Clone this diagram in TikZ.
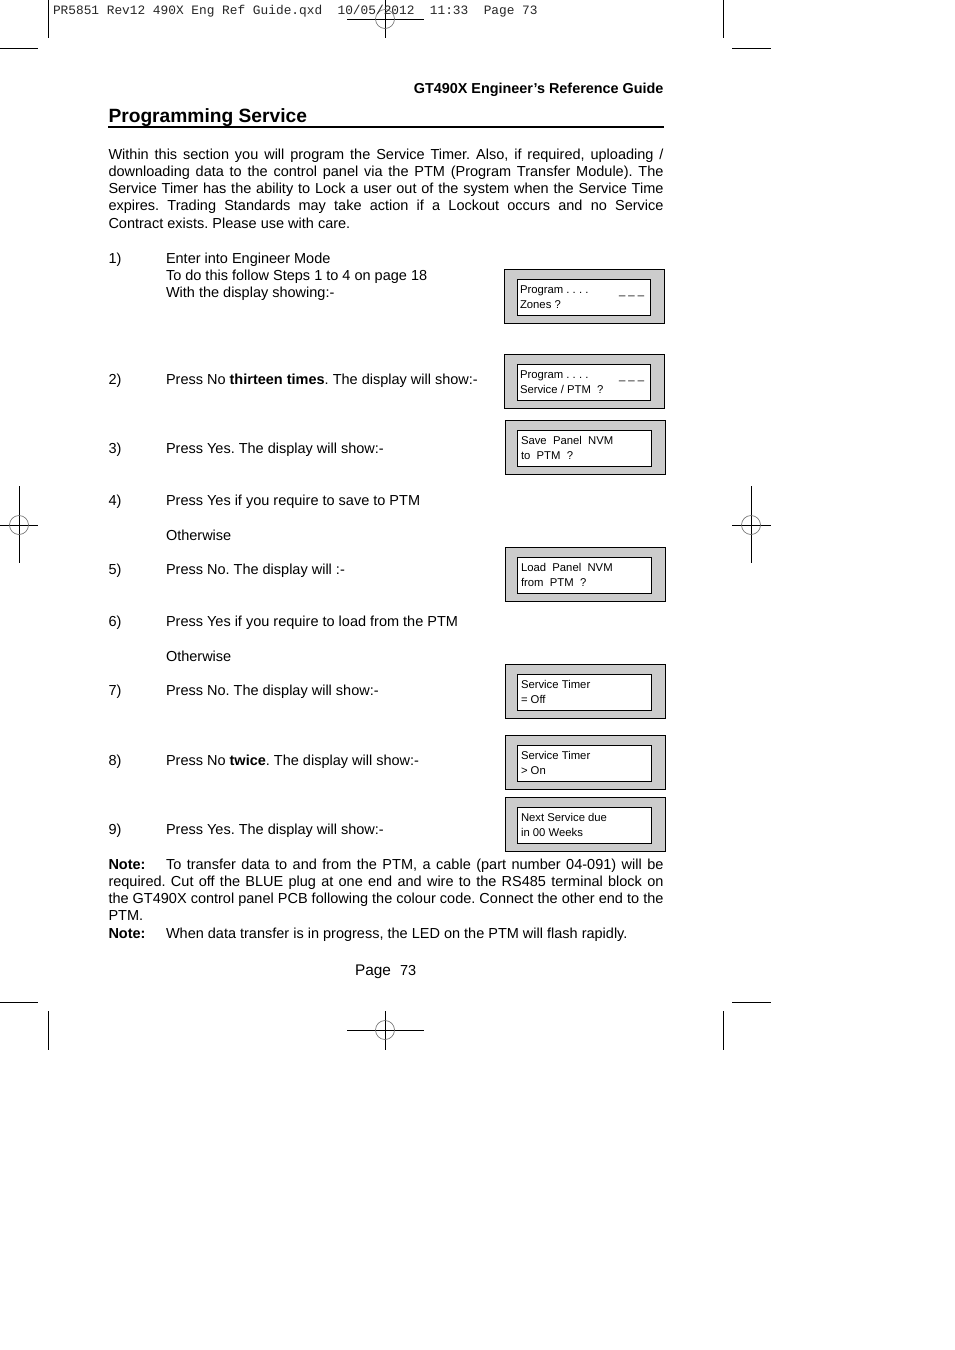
\documentclass[tikz,border=0pt]{standalone}
\usepackage{fontspec}
\setmainfont{Liberation Sans}
\newfontfamily\crop{Liberation Mono}
\newcommand{\jl}[1]{\makebox[555pt][s]{#1}}
\frenchspacing
\begin{document}
\begin{tikzpicture}[x=1pt,y=-1pt,
  every node/.style={inner sep=0pt,outer sep=0pt},
  mark line/.style={line width=0.9pt,black},
  mark ring/.style={line width=0.6pt,black!60},
  slug/.style={anchor=base west,font=\crop\fontsize{12.82}{14}\selectfont,text=black!85},
  head/.style={anchor=base east,font=\bfseries\fontsize{14.4}{17}\selectfont},
  title text/.style={anchor=base west,font=\bfseries\fontsize{19.2}{24}\selectfont},
  body/.style={anchor=base west,font=\fontsize{14.5}{17}\selectfont},
  para/.style={anchor=north west,align=left,font=\fontsize{14.5}{17.3}\selectfont},
  panel/.style={anchor=north west,draw=black,line width=0.9pt,fill=black!20,minimum width=160pt,minimum height=54pt},
  lcd/.style={anchor=north west,draw=black,line width=0.9pt,fill=white,minimum width=134pt,minimum height=36pt},
  lcdtext/.style={anchor=base west,font=\fontsize{11.3}{13}\selectfont},
]
\useasboundingbox (0,0) rectangle (954,1350);
\fill[white] (0,0) rectangle (954,1350);
% crop marks
\draw[mark line] (48,0)--(48,38) (0,48)--(38,48) (723,0)--(723,38) (732,48)--(771,48);
\draw[mark line] (347,19)--(424,19) (385,0)--(385,38);
\draw[mark line] (19,486)--(19,563) (0,525)--(38,525);
\draw[mark line] (751,486)--(751,563) (732,525)--(771,525);
\draw[mark line] (0,1002)--(38,1002) (48,1011)--(48,1050) (723,1011)--(723,1050) (732,1002)--(771,1002);
\draw[mark line] (347,1030)--(424,1030) (385,1011)--(385,1050);
\draw[mark ring] (385,19) circle (9.5) (19,525) circle (9.5) (751,525) circle (9.5) (385,1030) circle (9.5);
\node[slug] (slug) at (53,14.5) {PR5851 Rev12 490X Eng Ref Guide.qxd~~10/05/2012~~11:33~~Page 73};
% heading
\node[head] (guide) at (663.5,93) {GT490X Engineer’s Reference Guide};
\node[title text] (title) at (108.5,122) {Programming Service};
\draw[line width=1.6pt] (108,127)--(664,127);
% intro
\node[para] (intro) at (108.5,148.5) {\jl{Within this section you will program the Service Timer. Also, if required, uploading /}\\
\jl{downloading data to the control panel via the PTM (Program Transfer Module). The}\\
\jl{Service Timer has the ability to Lock a user out of the system when the Service Time}\\
\jl{expires. Trading Standards may take action if a Lockout occurs and no Service}\\
Contract exists. Please use with care.};
% steps
\node[body] (n1) at (108.5,263) {1)};
\node[body] (s1a) at (166,263) {Enter into Engineer Mode};
\node[body] (s1b) at (166,280) {To do this follow Steps 1 to 4 on page 18};
\node[body] (s1c) at (166,297) {With the display showing:-};
\node[body] (n2) at (108.5,384) {2)};
\node[body] (s2) at (166,384) {Press No \textbf{thirteen times}. The display will show:-};
\node[body] (n3) at (108.5,453) {3)};
\node[body] (s3) at (166,453) {Press Yes. The display will show:-};
\node[body] (n4) at (108.5,505) {4)};
\node[body] (s4) at (166,505) {Press Yes if you require to save to PTM};
\node[body] (o1) at (166,540) {Otherwise};
\node[body] (n5) at (108.5,574) {5)};
\node[body] (s5) at (166,574) {Press No. The display will :-};
\node[body] (n6) at (108.5,626) {6)};
\node[body] (s6) at (166,626) {Press Yes if you require to load from the PTM};
\node[body] (o2) at (166,661) {Otherwise};
\node[body] (n7) at (108.5,695) {7)};
\node[body] (s7) at (166,695) {Press No. The display will show:-};
\node[body] (n8) at (108.5,765) {8)};
\node[body] (s8) at (166,765) {Press No \textbf{twice}. The display will show:-};
\node[body] (n9) at (108.5,834) {9)};
\node[body] (s9) at (166,834) {Press Yes. The display will show:-};
% notes
\node[para] (note1) at (108.5,858.5) {\jl{\makebox[57.5pt][l]{\textbf{Note:}}To transfer data to and from the PTM, a cable (part number 04-091) will be}\\
\jl{required. Cut off the BLUE plug at one end and wire to the RS485 terminal block on}\\
\jl{the GT490X control panel PCB following the colour code. Connect the other end to the}\\
PTM.\\
\makebox[57.5pt][l]{\textbf{Note:}}When data transfer is in progress, the LED on the PTM will flash rapidly.};
% page number
\node[anchor=base west,font=\fontsize{15.4}{17}\selectfont] (page) at (355,975) {Page};
\node[body] (pnum) at (400,975) {73};
% displays
\node[panel] (p1) at (504.5,269.3) {};
\node[lcd,minimum width=133.5pt] (l1) at (517,279) {};
\node[lcdtext] at (520,293) {Program . . . .};
\node[lcdtext] at (520,308) {Zones ?};
\node[lcdtext] at (619,294) {\_ \_ \_};
\node[panel] (p2) at (504.5,354.3) {};
\node[lcd,minimum width=133.5pt] (l2) at (517,364.5) {};
\node[lcdtext] at (520,378) {Program . . . .};
\node[lcdtext] at (520,393) {Service / PTM~~?};
\node[lcdtext] at (619,379) {\_ \_ \_};
\node[panel] (p3) at (505.5,420.5) {};
\node[lcd] (l3) at (517.5,430.5) {};
\node[lcdtext] at (521,444) {Save~~Panel~~NVM};
\node[lcdtext] at (521,459) {to~~PTM~~?};
\node[panel] (p4) at (505.5,547) {};
\node[lcd] (l4) at (517.5,557) {};
\node[lcdtext] at (521,571) {Load~~Panel~~NVM};
\node[lcdtext] at (521,586) {from~~PTM~~?};
\node[panel] (p5) at (505.5,664) {};
\node[lcd] (l5) at (517.5,674) {};
\node[lcdtext] at (521,688) {Service Timer};
\node[lcdtext] at (521,703) {= Off};
\node[panel] (p6) at (505.5,735) {};
\node[lcd] (l6) at (517.5,745) {};
\node[lcdtext] at (521,759) {Service Timer};
\node[lcdtext] at (521,774) {> On};
\node[panel] (p7) at (505.5,797) {};
\node[lcd] (l7) at (517.5,807) {};
\node[lcdtext] at (521,821) {Next Service due};
\node[lcdtext] at (521,836) {in 00 Weeks};
\end{tikzpicture}
\end{document}
